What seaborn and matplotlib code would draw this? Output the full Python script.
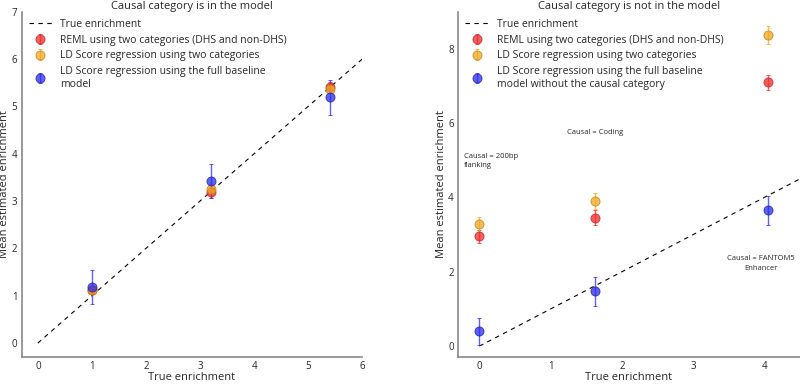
import matplotlib
matplotlib.use("Agg")
import matplotlib.pyplot as plt
import seaborn as sns
import numpy as np

# Left panel: causal category in the model
x_in = [1.0, 3.2, 5.4]
reml_in = [1.13, 3.18, 5.40]
reml_in_err = [0.06, 0.12, 0.12]
ldsc2_in = [1.12, 3.26, 5.37]
ldsc2_in_err = [0.06, 0.10, 0.10]
ldscfull_in = [1.18, 3.42, 5.19]
ldscfull_in_err = [0.36, 0.36, 0.37]

# Right panel: causal category not in the model
x_out = [0.0, 1.62, 4.05]
reml_out = [2.95, 3.45, 7.10]
reml_out_err = [0.18, 0.20, 0.20]
ldsc2_out = [3.28, 3.90, 8.38]
ldsc2_out_err = [0.20, 0.21, 0.24]
ldscfull_out = [0.40, 1.47, 3.65]
ldscfull_out_err = [0.37, 0.39, 0.40]

labels_in = ["REML using two categories (DHS and non-DHS)",
             "LD Score regression using two categories",
             "LD Score regression using the full baseline\nmodel"]
labels_out = ["REML using two categories (DHS and non-DHS)",
              "LD Score regression using two categories",
              "LD Score regression using the full baseline\nmodel without the causal category"]

colors = ["#ee2a2a", "#f5a623", "#2b2bee"]
edges = ["#c81e1e", "#b8860b", "#1e1eb0"]

sns.set_style("white")
plt.rcParams['font.family'] = ['Open Sans', 'DejaVu Sans']

fig = plt.figure(figsize=(8, 3.85), dpi=100)
ax1 = fig.add_axes([0.027, 0.072, 0.426, 0.898])
ax2 = fig.add_axes([0.5725, 0.072, 0.4275, 0.898])


def draw_panel(ax, xs, series, errs, labels, line_x, xlim, ylim, xticks, yticks, title):
    sns.lineplot(x=line_x, y=line_x, ax=ax, color="black", linestyle=(0, (4, 4)),
                 linewidth=0.8, label="True enrichment")
    for ys, es, lab, c, ec in zip(series, errs, labels, colors, edges):
        ax.errorbar(xs, ys, yerr=es, fmt="o", color=c, ecolor=c, mec=ec, mew=0.7,
                    markersize=6.5, alpha=0.75, elinewidth=1.0, capsize=1.5,
                    capthick=0.8, label=lab)
    ax.set_xlim(*xlim)
    ax.set_ylim(*ylim)
    ax.set_xticks(xticks)
    ax.set_yticks(yticks)
    ax.tick_params(labelsize=7, length=3, direction="in", color="#888888", pad=3)
    ax.set_xlabel("True enrichment", fontsize=8, labelpad=0)
    ax.set_ylabel("Mean estimated enrichment", fontsize=8, labelpad=1)
    ax.set_title(title, fontsize=8, pad=2)
    sns.despine(ax=ax)
    for s in ["left", "bottom"]:
        ax.spines[s].set_color("#888888")
        ax.spines[s].set_linewidth(1.2)
    leg = ax.legend(loc="upper left", frameon=False, fontsize=7.5,
                    handlelength=2.2, labelspacing=0.45, borderaxespad=0.3)
    return leg


draw_panel(ax1, x_in, [reml_in, ldsc2_in, ldscfull_in],
           [reml_in_err, ldsc2_in_err, ldscfull_in_err], labels_in,
           [0, 6], (-0.3, 6), (-0.3, 7), range(0, 7), range(0, 8),
           "Causal category is in the model")
draw_panel(ax2, x_out, [reml_out, ldsc2_out, ldscfull_out],
           [reml_out_err, ldsc2_out_err, ldscfull_out_err], labels_out,
           [0, 4.5], (-0.3, 4.5), (-0.3, 9), range(0, 5), range(0, 9, 2),
           "Causal category is not in the model")

ax2.text(-0.22, 5.2, "Causal = 200bp\nflanking", fontsize=5.5, va="top", ha="left",
         linespacing=1.5)
ax2.text(1.23, 5.74, "Causal = Coding", fontsize=5.5, va="center", ha="left")
ax2.text(3.95, 2.45, "Causal = FANTOM5\nEnhancer", fontsize=5.5, va="top", ha="center",
         linespacing=1.5)

fig.savefig("out.png", dpi=100)
